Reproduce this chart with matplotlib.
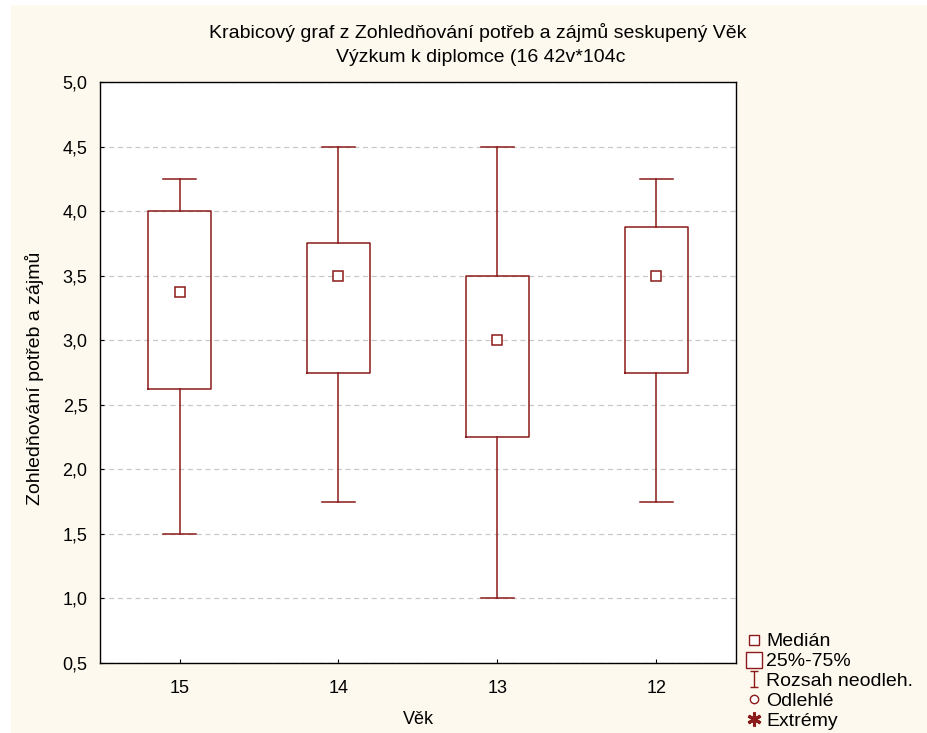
import matplotlib
matplotlib.use("Agg")
from matplotlib import pyplot as plt
from matplotlib.lines import Line2D
from matplotlib.patches import Rectangle
from matplotlib.path import Path

plt.rcParams['font.family'] = ['Liberation Sans', 'DejaVu Sans']

groups = ['15', '14', '13', '12']
medians = [3.375, 3.5, 3.0, 3.5]
q1 = [2.625, 2.75, 2.25, 2.75]
q3 = [4.0, 3.75, 3.5, 3.875]
whislo = [1.5, 1.75, 1.0, 1.75]
whishi = [4.25, 4.5, 4.5, 4.25]
yticks = [0.5, 1.0, 1.5, 2.0, 2.5, 3.0, 3.5, 4.0, 4.5, 5.0]
title1 = 'Krabicový graf z Zohledňování potřeb a zájmů seskupený Věk'
title2 = 'Výzkum k diplomce (16 42v*104c'

red = '#8B1A1A'
cream = '#FEF9EE'
fs = 13

W, H = 927, 733
fig = plt.figure(figsize=(W / 100, H / 100), dpi=100, facecolor='white')
fig.patches.append(Rectangle((11 / W, 0), 1, 728 / H, transform=fig.transFigure,
                             facecolor=cream, edgecolor='none', zorder=-10))
ax = fig.add_axes([100 / W, 70 / H, 636 / W, 581 / H])
ax.set_facecolor('white')

stats = []
for i in range(len(groups)):
    stats.append({'med': medians[i], 'q1': q1[i], 'q3': q3[i],
                  'whislo': whislo[i], 'whishi': whishi[i], 'fliers': []})
pos = list(range(1, len(groups) + 1))
ax.bxp(stats, positions=pos, widths=0.39, showfliers=False,
       boxprops=dict(color=red, linewidth=1.1),
       whiskerprops=dict(color=red, linewidth=1.1),
       capprops=dict(color=red, linewidth=1.1),
       medianprops=dict(linewidth=0), capwidths=0.21)
ax.plot(pos, medians, 's', ms=7.5, mfc='white', mec=red, mew=1.1, ls='none', zorder=5)

ax.set_xlim(0.5, 4.5)
ax.set_ylim(0.5, 5.0)
ax.set_xticks(pos)
ax.set_xticklabels(groups)
ax.set_yticks(yticks)
ax.set_yticklabels([('%.1f' % v).replace('.', ',') for v in yticks])
ax.yaxis.grid(True, linestyle=(0, (4, 3)), color='#c8c8c8', linewidth=0.9)
ax.set_axisbelow(True)
ax.tick_params(direction='in', length=3, labelsize=fs)
ax.tick_params(axis='x', pad=12)
ax.tick_params(axis='y', pad=9)
for s in ax.spines.values():
    s.set_linewidth(1.0)

ax.set_xlabel('Věk', fontsize=fs, labelpad=10)
ax.set_ylabel('Zohledňování potřeb a zájmů', fontsize=14)
ax.yaxis.set_label_coords(-0.088, 0.49)

fig.text(478 / W, 1 - 32 / H, title1, fontsize=14, ha='center', va='center')
fig.text(481 / W, 1 - 58 / H, title2, fontsize=14, ha='center', va='center')

whisker = Path([(-0.5, -1), (0.5, -1), (0, -1), (0, 1), (-0.5, 1), (0.5, 1)],
               [Path.MOVETO, Path.LINETO, Path.MOVETO, Path.LINETO, Path.MOVETO, Path.LINETO])
handles = [
    Line2D([], [], marker='s', ms=7, mfc='white', mec=red, ls='none'),
    Line2D([], [], marker='s', ms=11, mfc='white', mec=red, ls='none'),
    Line2D([], [], marker=whisker, ms=11, mec=red, ls='none'),
    Line2D([], [], marker='o', ms=6, mfc='white', mec=red, ls='none'),
    Line2D([], [], marker=(6, 2, 0), ms=10, mec=red, mew=2.2, ls='none'),
]
labels = ['Medián', '25%-75%', 'Rozsah neodleh.', 'Odlehlé', 'Extrémy']
fig.legend(handles, labels, loc='upper left', bbox_to_anchor=(737 / W, 108 / H),
           frameon=False, fontsize=14, handletextpad=0.2, labelspacing=0.12,
           handlelength=0.9, borderaxespad=0)

fig.savefig('out.png', dpi=100, facecolor=fig.get_facecolor())
